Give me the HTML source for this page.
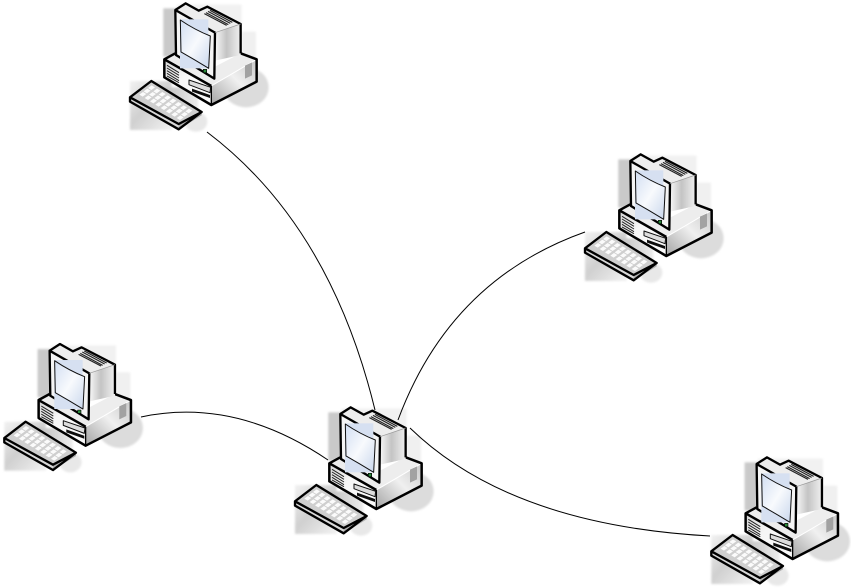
<!DOCTYPE html>
<html>
<head>
<meta charset="utf-8">
<style>
html,body{margin:0;padding:0;background:#fff;width:851px;height:588px;overflow:hidden}
svg{display:block}
</style>
</head>
<body>
<svg width="851" height="588" viewBox="0 0 851 588" xmlns="http://www.w3.org/2000/svg">
<defs>
<filter id="soft" x="-5%" y="-5%" width="110%" height="110%"><feGaussianBlur stdDeviation="1.1"/></filter>
<filter id="soft2" x="-5%" y="-5%" width="110%" height="110%"><feGaussianBlur stdDeviation="3"/></filter>
<linearGradient id="scr" x1="0" y1="0" x2="1" y2="1">
<stop offset="0" stop-color="#d2def2"/><stop offset=".5" stop-color="#f8fafd"/><stop offset="1" stop-color="#c8d6ec"/>
</linearGradient>
<linearGradient id="side" x1="0" y1="0" x2="1" y2="0">
<stop offset="0" stop-color="#f8f8f8"/><stop offset=".45" stop-color="#c4c4c4"/><stop offset="1" stop-color="#f0f0f0"/>
</linearGradient>
<linearGradient id="baseR" x1="0" y1="1" x2="1" y2="0">
<stop offset="0" stop-color="#a4a4a4"/><stop offset=".55" stop-color="#f0f0f0"/><stop offset="1" stop-color="#c8c8c8"/>
</linearGradient>
<linearGradient id="baseF" x1="0" y1="0" x2="1" y2="1">
<stop offset="0" stop-color="#d4d4d4"/><stop offset=".4" stop-color="#f6f6f6"/><stop offset="1" stop-color="#fcfcfc"/>
</linearGradient>
<linearGradient id="kbs" x1="0" y1="0" x2="0.9" y2="1">
<stop offset="0" stop-color="#f2f2f2"/><stop offset=".5" stop-color="#d0d0d0"/><stop offset="1" stop-color="#efefef"/>
</linearGradient>
<linearGradient id="kbs2" x1="0" y1="0" x2="1" y2="0">
<stop offset="0" stop-color="#bcbcbc"/><stop offset="1" stop-color="#ececec"/>
</linearGradient>
<g id="shad" transform="scale(.3333)" filter="url(#soft2)">
<rect x="170" y="14" width="195" height="60" fill="#f1f1f1"/>
<rect x="365" y="95" width="43" height="85" fill="#f0f0f0"/>
<rect x="130" y="25" width="40" height="145" fill="#c9c9c9"/>
<ellipse cx="378" cy="262" rx="68" ry="60" fill="#dcdcdc"/>
<rect x="30" y="243" width="125" height="147" fill="url(#kbs)"/>
<ellipse cx="228" cy="365" rx="34" ry="30" fill="#e8e8e8"/>
<rect x="125" y="262" width="110" height="70" fill="url(#kbs2)"/>
</g>
<g id="pc" transform="scale(.3333)" stroke-linejoin="round" filter="url(#soft)">
<!-- base -->
<path d="M133 178 L170 160 L285 200 L362 160 L410 178 L274 258Z" fill="#ededed"/>
<path d="M133 178 L274 258 L274 315 L133 232Z" fill="url(#baseF)"/>
<path d="M274 258 L410 178 L410 245 L274 315Z" fill="url(#baseR)"/>
<path d="M274 258 L410 178" stroke="#fff" stroke-width="3" fill="none"/>
<path d="M133 178 L166 160 M362 160 L410 178 L410 245 L274 315 L133 232 L133 178 L274 258" fill="none" stroke="#000" stroke-width="7.5"/>
<path d="M274 258 L274 315" stroke="#000" stroke-width="4"/>
<!-- tower body -->
<path d="M285 98 L362 72 L362 165 L285 182Z" fill="url(#side)"/>
<path d="M166 30 L197 10 L236 32 L262 20 L362 72 L285 98Z" fill="#ededed"/>
<path d="M166 30 L285 98 L283 236 L168 165Z" fill="#f4f4f4"/>
<path d="M166 30 L197 10 L236 32 L262 20 L362 72 L362 160 M166 30 L285 98 L283 236 L168 165 Z" fill="none" stroke="#000" stroke-width="7"/>
<path d="M285 98 L362 72" stroke="#999" stroke-width="2"/>
<!-- vents top -->
<path d="M258 38 L325 74 M264 34 L331 70 M270 31 L337 67 M253 41 L320 76" stroke="#222" stroke-width="3.5"/>
<!-- screen -->
<rect x="180" y="58" width="85" height="147" fill="#d6e0f1"/>
<path d="M181 60 Q225 90 271 108 L266 205 Q225 180 183 156Z" fill="url(#scr)" stroke="#111" stroke-width="3"/>
<rect x="250" y="208" width="10" height="10" fill="#2c8a3a" stroke="#000" stroke-width="2"/>
<!-- base details -->
<path d="M141 196 L177 218 M141 204 L177 226 M141 212 L177 234 M141 220 L177 242 M141 228 L177 248" stroke="#222" stroke-width="3"/>
<path d="M207 240 L272 262 L270 278 L207 254Z" fill="#ddd" stroke="#111" stroke-width="3"/>
<path d="M216 266 L270 285 L270 294 L216 275Z" fill="#111"/>
<path d="M375 197 L396 187 L396 226 L375 236Z" fill="#a2a2a2"/>
<!-- keyboard -->
<path d="M30 292 L94 243 L245 336 L176 388 L30 305Z" fill="#cfcfcf"/>
<path d="M30 292 L176 372 L176 388 L30 305Z" fill="#d8d8d8"/>
<path d="M176 372 L245 336 L245 346 L176 388Z" fill="#b0b0b0"/>
<g fill="#fbfbfb">
<path d="M58 284l11-8 10 6-11 8zM74 294l11-8 10 6-11 8zM90 304l11-8 10 6-11 8zM106 314l11-8 10 6-11 8zM122 324l11-8 10 6-11 8zM138 334l11-8 10 6-11 8zM154 344l11-8 10 6-11 8zM170 354l11-8 10 6-11 8z"/>
<path d="M71 274l11-8 10 6-11 8zM87 284l11-8 10 6-11 8zM103 294l11-8 10 6-11 8zM119 304l11-8 10 6-11 8zM135 314l11-8 10 6-11 8zM151 324l11-8 10 6-11 8zM167 334l11-8 10 6-11 8zM183 344l11-8 10 6-11 8z"/>
<path d="M84 264l11-8 10 6-11 8zM100 274l11-8 10 6-11 8zM116 284l11-8 10 6-11 8zM132 294l11-8 10 6-11 8zM148 304l11-8 10 6-11 8zM164 314l11-8 10 6-11 8zM180 324l11-8 10 6-11 8zM196 334l11-8 10 6-11 8z"/>
</g>
<path d="M30 292 L94 243 L245 336 L176 388 L30 305Z M30 292 L176 372 L245 336" fill="none" stroke="#000" stroke-width="7"/>
</g>
</defs>
<use href="#shad" transform="translate(120 0)"/>
<use href="#shad" transform="translate(285 404)"/>
<use href="#shad" transform="translate(575 151)"/>
<use href="#shad" transform="translate(-5.7 340.7)"/>
<use href="#shad" transform="translate(701.3 454)"/>
<g fill="none" stroke="#000" stroke-width="1">
<path d="M207 132 Q330 225 375 410"/>
<path d="M585 232 Q450 280 398 420"/>
<path d="M141 417 Q235 397 328 460"/>
<path d="M410 428 Q510 525 710 536"/>
</g>
<use href="#pc" transform="translate(120 0)"/>
<use href="#pc" transform="translate(285 404)"/>
<use href="#pc" transform="translate(575 151)"/>
<use href="#pc" transform="translate(-5.7 340.7)"/>
<use href="#pc" transform="translate(701.3 454)"/>
</svg>
</body>
</html>
